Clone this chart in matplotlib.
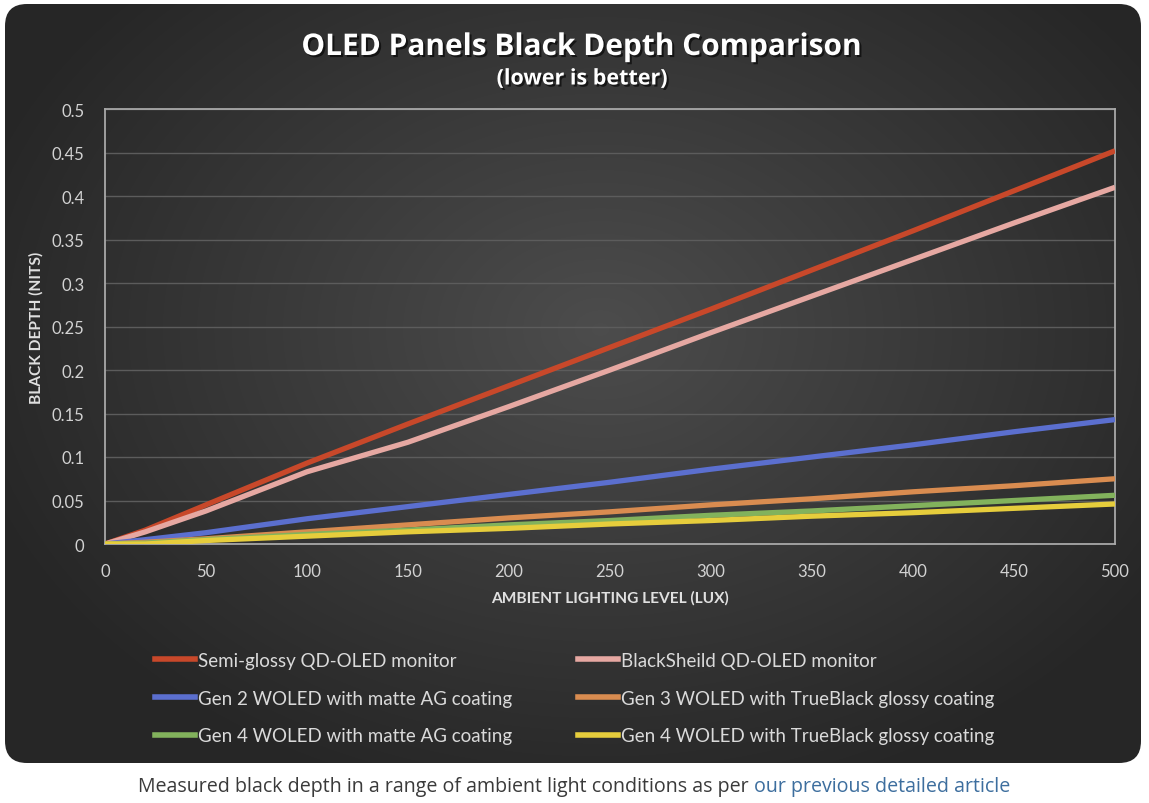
import numpy as np
import matplotlib
matplotlib.use('Agg')
import matplotlib.pyplot as plt
from matplotlib.patches import FancyBboxPatch
from matplotlib.lines import Line2D
import matplotlib.patheffects as pe

# data
lux = [0, 20, 50, 100, 150, 200, 250, 300, 350, 400, 450, 500]
semi_glossy = [0, 0.016, 0.045, 0.093, 0.138, 0.182, 0.226, 0.270, 0.315, 0.360, 0.406, 0.452]
blackshield = [0, 0.014, 0.038, 0.083, 0.117, 0.158, 0.200, 0.243, 0.285, 0.327, 0.369, 0.410]
gen2_matte = [0, 0.005, 0.013, 0.029, 0.043, 0.057, 0.071, 0.086, 0.100, 0.114, 0.129, 0.143]
gen3_glossy = [0, 0.002, 0.006, 0.014, 0.022, 0.030, 0.037, 0.045, 0.052, 0.060, 0.067, 0.075]
gen4_matte = [0, 0.001, 0.005, 0.011, 0.016, 0.022, 0.027, 0.033, 0.038, 0.044, 0.050, 0.056]
gen4_glossy = [0, 0.0, 0.004, 0.009, 0.014, 0.018, 0.023, 0.027, 0.032, 0.036, 0.041, 0.046]

labels = ['Semi-glossy QD-OLED monitor', 'BlackSheild QD-OLED monitor',
          'Gen 2 WOLED with matte AG coating', 'Gen 3 WOLED with TrueBlack glossy coating',
          'Gen 4 WOLED with matte AG coating', 'Gen 4 WOLED with TrueBlack glossy coating']
colors = ['#c8482a', '#e6a8a2', '#5b6fcf', '#d98c50', '#82b25c', '#e6cd3c']
series = [semi_glossy, blackshield, gen2_matte, gen3_glossy, gen4_matte, gen4_glossy]

W, H = 1149, 804
fig = plt.figure(figsize=(W / 100, H / 100), dpi=100)
fig.patch.set_facecolor('white')

# background panel with radial gradient and rounded corners
bg = fig.add_axes([0, 0, 1, 1])
bg.set_xlim(0, W)
bg.set_ylim(H, 0)
bg.axis('off')
yy, xx = np.mgrid[0:H, 0:W]
r = np.sqrt(((xx - 600) / 700.0) ** 2 + ((yy - 330) / 520.0) ** 2)
shade = np.clip(0.30 - 0.16 * r, 0.15, 0.30)
img = np.dstack([shade, shade, shade])
im = bg.imshow(img, extent=[0, W, H, 0], zorder=0)
panel = FancyBboxPatch((5 + 22, 5 + 22), 1136 - 44, 759 - 44,
                       boxstyle='round,pad=22', transform=bg.transData,
                       facecolor='none', edgecolor='none')
bg.add_patch(panel)
im.set_clip_path(panel)

font = 'Lato'
tick_col = '#d2d2d2'

ax = fig.add_axes([105 / W, 1 - 545 / H, (1115 - 105) / W, (545 - 110) / H])
ax.set_facecolor('none')
for i, s in enumerate(series):
    ax.plot(lux, s, color=colors[i], lw=3.8, solid_capstyle='butt', zorder=3 + i)

ax.set_xlim(0, 500)
ax.set_ylim(0, 0.5)
ax.set_xticks(np.arange(0, 501, 50))
yt = np.round(np.arange(0, 0.501, 0.05), 2)
ax.set_yticks(yt)
ax.set_yticklabels(['0' if v == 0 else ('%g' % v) for v in yt])
ax.grid(axis='y', color='#5c5c5c', lw=1.0)
ax.set_axisbelow(True)
for sp in ax.spines.values():
    sp.set_color('#a8a8a8')
    sp.set_linewidth(1.3)
ax.tick_params(length=0, colors=tick_col, labelsize=12, pad=15)
ax.tick_params(axis='x', pad=14)
for t in ax.get_xticklabels() + ax.get_yticklabels():
    t.set_fontfamily(font)
ax.set_xlabel('AMBIENT LIGHTING LEVEL (LUX)', color='#e0e0e0', fontsize=11.2,
              fontweight='bold', fontfamily=font, labelpad=8)
ax.set_ylabel('BLACK DEPTH (NITS)', color='#e0e0e0', fontsize=11.2,
              fontweight='bold', fontfamily=font, labelpad=6)

shadow = [pe.withSimplePatchShadow(offset=(1.5, -1.5), shadow_rgbFace='black', alpha=0.6)]
fig.text(582 / W, 1 - 48 / H, 'OLED Panels Black Depth Comparison', ha='center', va='center',
         color='white', fontsize=21.5, fontweight='bold', fontfamily='Open Sans',
         path_effects=shadow)
fig.text(582 / W, 1 - 80 / H, '(lower is better)', ha='center', va='center',
         color='white', fontsize=15.5, fontweight='bold', fontfamily='Open Sans',
         path_effects=shadow)

# legend in two columns, placed as two single column legends
handles = [Line2D([], [], color=c, lw=4) for c in colors]
leg_kw = dict(frameon=False, labelcolor='#dadada', handlelength=2.15,
              handletextpad=0.12, labelspacing=1.1, borderaxespad=0, borderpad=0,
              prop={'family': font, 'size': 13.5})
leg1 = fig.legend([handles[0], handles[2], handles[4]], [labels[0], labels[2], labels[4]],
                  loc='upper left', bbox_to_anchor=(155 / W, 1 - 653 / H), **leg_kw)
leg2 = fig.legend([handles[1], handles[3], handles[5]], [labels[1], labels[3], labels[5]],
                  loc='upper left', bbox_to_anchor=(578 / W, 1 - 653 / H), **leg_kw)

# caption under the panel, with the link part in blue
fig.canvas.draw()
renderer = fig.canvas.get_renderer()
part1 = 'Measured black depth in a range of ambient light conditions as per '
part2 = 'our previous detailed article'
t1 = fig.text(0, 1 - 787 / H, part1, ha='left', va='center', color='#3a3a3a',
              fontsize=14.1, fontfamily='Open Sans')
t2 = fig.text(0, 1 - 787 / H, part2, ha='left', va='center', color='#3d6e9e',
              fontsize=14.1, fontfamily='Open Sans')
w1 = t1.get_window_extent(renderer).width
w2 = t2.get_window_extent(renderer).width
x0 = 574 - (w1 + w2) / 2
t1.set_x(x0 / W)
t2.set_x((x0 + w1) / W)

fig.savefig('out.png', dpi=100, facecolor='white')
